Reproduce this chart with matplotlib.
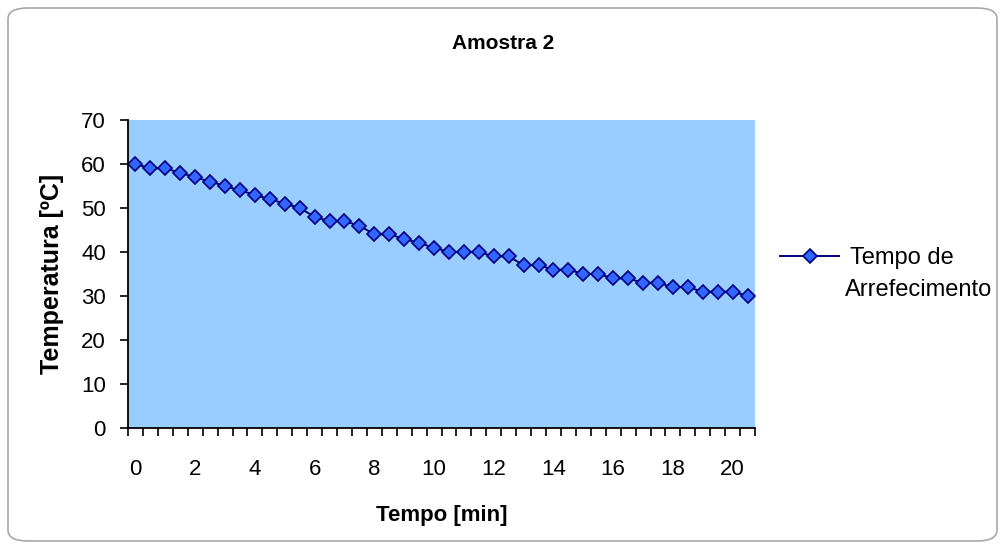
import matplotlib
matplotlib.use("Agg")
import matplotlib.pyplot as plt
from matplotlib.patches import FancyBboxPatch
import numpy as np

# time in minutes (categories every half minute)
tempo = [i * 0.5 for i in range(42)]
temperatura = [60, 59, 59, 58, 57, 56, 55, 54, 53, 52, 51, 50, 48, 47, 47, 46,
               44, 44, 43, 42, 41, 40, 40, 40, 39, 39, 37, 37, 36, 36, 35, 35,
               34, 34, 33, 33, 32, 32, 31, 31, 31, 30]
x_labels = ["0", "2", "4", "6", "8", "10", "12", "14", "16", "18", "20"]
y_ticks = [0, 10, 20, 30, 40, 50, 60, 70]

plt.rcParams['font.family'] = ['Liberation Sans', 'DejaVu Sans']

fig = plt.figure(figsize=(10.05, 5.49), dpi=100)
W, H = 1005, 549

# rounded chart border
border = FancyBboxPatch((8 / W, 8 / H), 989 / W, 533 / H,
                        boxstyle="round,pad=0,rounding_size=0.02",
                        transform=fig.transFigure, facecolor="white",
                        edgecolor="#a8a8a8", linewidth=1.2, zorder=-1)
fig.patches.append(border)

ax = fig.add_axes([128 / W, 1 - 428 / H, (755 - 128) / W, (428 - 120) / H])
ax.set_facecolor("#99CCFF")

idx = np.arange(len(tempo))
ax.plot(idx, temperatura, color="#000080", linewidth=1.4, marker="D",
        markersize=7.5, markerfacecolor="#3366FF", markeredgecolor="#000080",
        markeredgewidth=1.2, label="Tempo de", clip_on=False)

ax.set_xlim(-0.5, len(tempo) - 0.5)
ax.set_ylim(0, 70)

# category boundaries as tick marks, labels every 4 categories
ax.set_xticks(np.arange(-0.5, len(tempo), 1.0))
ax.set_xticklabels([])
ax.set_xticks(idx[::4], minor=True)
ax.set_xticklabels(x_labels, minor=True)
ax.tick_params(axis="x", which="major", direction="out", length=6, width=1.2)
ax.tick_params(axis="x", which="minor", length=0, pad=22, labelsize=16)
ax.set_yticks(y_ticks)
ax.tick_params(axis="y", direction="out", length=6, width=1.2, labelsize=16, pad=10)

for side in ["top", "right"]:
    ax.spines[side].set_visible(False)
for side in ["left", "bottom"]:
    ax.spines[side].set_linewidth(1.3)

ax.set_xlabel("Tempo [min]", fontsize=16, fontweight="bold", labelpad=18)
ax.set_ylabel("Temperatura [ºC]", fontsize=18, fontweight="bold", labelpad=12)
fig.text(503 / W, 1 - 44 / H, "Amostra 2", ha="center", va="center",
         fontsize=15, fontweight="bold")

fig.legend(loc="center left", bbox_to_anchor=(780 / W, 1 - 258 / H),
           frameon=False, fontsize=17, handlelength=2.5, handletextpad=0.45,
           borderaxespad=0, borderpad=0)
fig.text(845 / W, 1 - 290 / H, "Arrefecimento", ha="left", va="center",
         fontsize=17)

fig.savefig("out.png", dpi=100)
